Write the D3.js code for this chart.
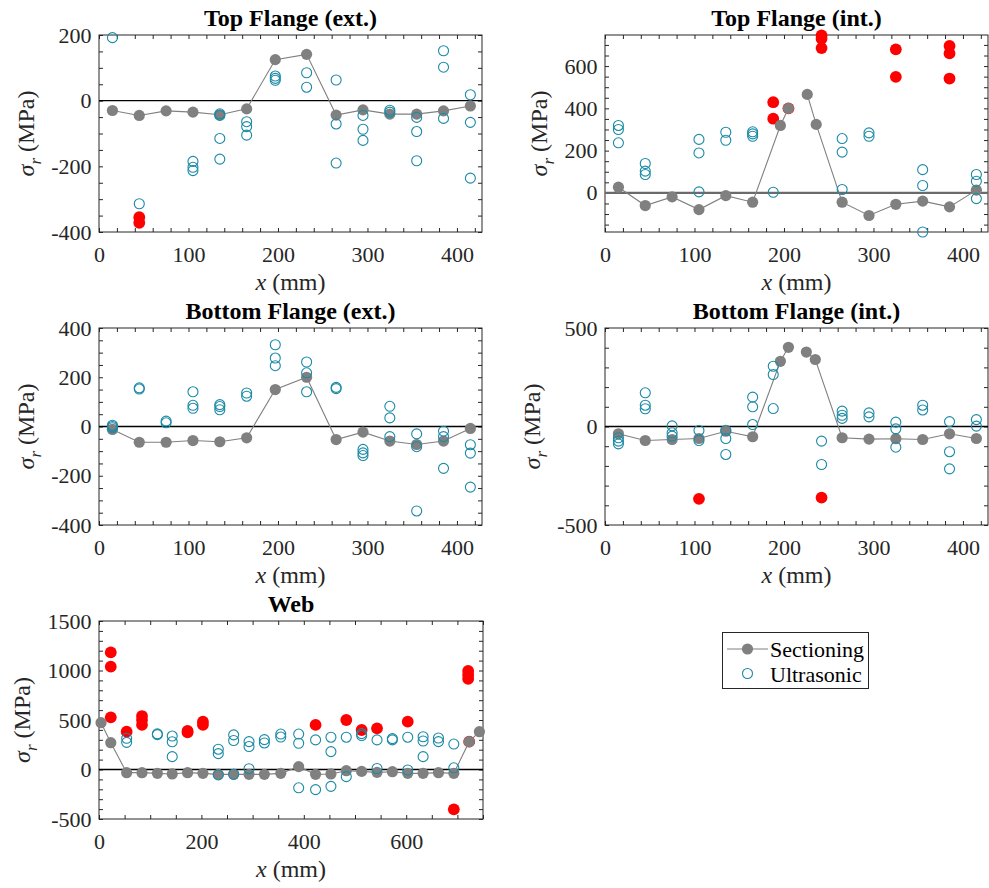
<!DOCTYPE html>
<html>
<head>
<meta charset="utf-8">
<script src="https://cdn.jsdelivr.net/npm/d3@7"></script>
<style>
  body { margin: 0; background: #fff; }
  svg { display: block; }
  svg text { font-family: "Liberation Serif", Tinos, "Times New Roman", Times, "DejaVu Serif", serif !important; }
</style>
</head>
<body>
<svg id="fig" width="989" height="888"></svg>
<script>
// ---------- Top Flange (ext.) ----------
const tfeSecX = [15, 45, 75, 105, 135, 165, 197, 232, 265, 295, 325, 355, 385, 415];
const tfeSecY = [-30, -45, -31, -35, -43, -25, 125, 141, -44, -28, -41, -41, -31, -16];
const tfeUltX = [15, 45, 105, 105, 105, 135, 135, 135, 135, 165, 165, 165, 197, 197, 197, 232, 232,
                 265, 265, 265, 295, 295, 295, 325, 325, 355, 355, 355, 385, 385, 385, 415, 415, 415];
const tfeUltY = [192, -314, -185, -203, -213, -40, -45, -115, -178, -64, -79, -105, 75, 68, 62, 85, 41,
                 63, -71, -190, -45, -87, -121, -29, -35, -51, -94, -183, 152, 102, -54, 18, -66, -236];
const tfeOutX = [45, 45];
const tfeOutY = [-355, -372];
const tfeYTicks = [-400, -200, 0, 200];

// ---------- Top Flange (int.) ----------  (null = break at the web junction)
const tfiSecX = [15, 45, 75, 105, 135, 165, 196, 205, null, 226, 236, 265, 295, 325, 355, 385, 415];
const tfiSecY = [27, -60, -19, -79, -13, -44, 319, 400, null, 466, 324, -44, -107, -54, -39, -66, 13];
const tfiUltX = [15, 15, 15, 45, 45, 45, 105, 105, 105, 135, 135, 165, 165, 165, 188,
                 265, 265, 265, 295, 295, 355, 355, 355, 415, 415, 415];
const tfiUltY = [319, 300, 237, 139, 103, 87, 253, 189, 5, 287, 249, 289, 279, 268, 3,
                 257, 193, 16, 284, 268, 110, 35, -185, 87, 55, -27];
const tfiOutX = [188, 188, 205, 242, 242, 242, 325, 325, 385, 385, 385];
const tfiOutY = [429, 351, 400, 745, 729, 685, 679, 549, 695, 660, 541];
const tfiYTicks = [0, 200, 400, 600];

// ---------- Bottom Flange (ext.) ----------
const bfeSecX = [15, 45, 75, 105, 135, 165, 197, 232, 265, 295, 325, 355, 385, 415];
const bfeSecY = [-12, -64, -64, -57, -62, -46, 150, 200, -53, -23, -59, -73, -59, -8];
const bfeUltX = [15, 15, 15, 45, 45, 75, 75, 105, 105, 105, 135, 135, 135, 165, 165, 197, 197, 197,
                 232, 232, 232, 265, 265, 295, 295, 295, 325, 325, 325, 355, 355, 355, 385, 385, 385, 415, 415, 415];
const bfeUltY = [5, 0, -5, 157, 152, 22, 15, 141, 86, 74, 89, 81, 68, 136, 123, 332, 278, 247,
                 262, 218, 141, 159, 154, -93, -107, -118, 82, 35, -41, -30, -82, -343, -19, -41, -170, -74, -108, -246];
const bfeOutX = [];
const bfeOutY = [];
const bfeYTicks = [-400, -200, 0, 200, 400];

// ---------- Bottom Flange (int.) ----------
const bfiSecX = [15, 45, 75, 105, 135, 165, 196, 205, null, 225, 235, 265, 295, 325, 355, 385, 415];
const bfiSecY = [-37, -71, -66, -61, -24, -52, 331, 402, null, 378, 340, -57, -64, -62, -66, -37, -61];
const bfiUltX = [15, 15, 15, 45, 45, 45, 75, 75, 75, 105, 105, 135, 135, 135, 165, 165, 165, 188, 188, 188,
                 242, 242, 265, 265, 265, 295, 295, 325, 325, 325, 355, 355, 385, 385, 385, 415, 415];
const bfiUltY = [-57, -74, -88, 171, 108, 90, 3, -32, -49, -20, -71, -19, -61, -142, 149, 100, 10, 306, 264, 91,
                 -74, -193, 78, 57, 41, 69, 49, 22, -12, -105, 108, 84, 25, -128, -215, 35, 2];
const bfiOutX = [105, 242];
const bfiOutY = [-367, -361];
const bfiYTicks = [-500, 0, 500];

// ---------- Web ----------
const webSecX = [4, 23, 54, 84, 114, 143, 173, 203, 233, 263, 293, 323, 355, 390, 423, 453, 483, 513, 543, 573,
                 603, 633, 663, 693, 723, 743];
const webSecY = [473, 271, -32, -32, -39, -45, -32, -39, -49, -49, -49, -49, -39, 29, -49, -45, -12, -19, -29, -22,
                 -39, -39, -32, -39, 281, 382];
const webUltX = [54, 54, 114, 114, 143, 143, 143, 233, 233, 233, 263, 263, 263, 293, 293, 293, 323, 323, 355, 355,
                 390, 390, 390, 423, 423, 453, 453, 453, 483, 483, 513, 513, 543, 543, 573, 573, 603, 603,
                 633, 633, 633, 663, 663, 693, 693];
const webUltY = [315, 274, 360, 352, 338, 280, 130, 205, 160, -55, 350, 293, -48, 282, 232, 8, 302, 268, 358, 328,
                 358, 265, -185, 299, -203, 326, 181, -170, 326, -72, 362, 343, 299, 10, 312, 299, 326, -5,
                 331, 288, 130, 318, 282, 257, 17];
const webOutX = [23, 23, 23, 54, 84, 84, 84, 173, 173, 203, 203, 423, 483, 513, 543, 603, 693, 721, 721, 721, 723];
const webOutY = [1183, 1039, 527, 382, 540, 500, 450, 390, 375, 483, 450, 450, 500, 399, 416, 483, -402, 995, 955, 915, 281];
const webYTicks = [-500, 0, 500, 1000, 1500];

const flangeXTicks = [0, 100, 200, 300, 400];
const webXTicks = [0, 200, 400, 600];

const legendLabels = ["Sectioning", "Ultrasonic"];

// ---------- styling ----------
const FONT = '"Liberation Serif", Tinos, "Times New Roman", Times, "DejaVu Serif", serif';
const AX = "#262626";
const SEC = "#808080";
const ULT = "#1a8aa6";
const OUT = "#ff0000";
const TICK = 4;

const svg = d3.select("#fig").attr("font-family", FONT);

const zip = (xs, ys) => xs.map((x, i) => ({ x, y: ys[i] }));

const panels = [
  { title: "Top Flange (ext.)", box: [99, 482, 35, 232], xDom: [0, 428], yDom: [-400, 200],
    xT: flangeXTicks, xMin: 20, yT: tfeYTicks, yMin: 50,
    sec: zip(tfeSecX, tfeSecY), ult: zip(tfeUltX, tfeUltY), out: zip(tfeOutX, tfeOutY), zero: ["#000", 1.3] },
  { title: "Top Flange (int.)", box: [605, 988, 35, 232], xDom: [0, 428], yDom: [-185, 747],
    xT: flangeXTicks, xMin: 20, yT: tfiYTicks, yMin: 50,
    sec: zip(tfiSecX, tfiSecY), ult: zip(tfiUltX, tfiUltY), out: zip(tfiOutX, tfiOutY), zero: ["#6a6a6a", 2.4] },
  { title: "Bottom Flange (ext.)", box: [99, 482, 328, 525], xDom: [0, 428], yDom: [-400, 400],
    xT: flangeXTicks, xMin: 20, yT: bfeYTicks, yMin: 50,
    sec: zip(bfeSecX, bfeSecY), ult: zip(bfeUltX, bfeUltY), out: zip(bfeOutX, bfeOutY), zero: ["#000", 1.3] },
  { title: "Bottom Flange (int.)", box: [605, 988, 328, 525], xDom: [0, 428], yDom: [-500, 500],
    xT: flangeXTicks, xMin: 20, yT: bfiYTicks, yMin: 100,
    sec: zip(bfiSecX, bfiSecY), ult: zip(bfiUltX, bfiUltY), out: zip(bfiOutX, bfiOutY), zero: ["#000", 1.3] },
  { title: "Web", box: [99, 483, 621, 819], xDom: [0, 750], yDom: [-500, 1500],
    xT: webXTicks, xMin: 50, yT: webYTicks, yMin: 100,
    sec: zip(webSecX, webSecY), ult: zip(webUltX, webUltY), out: zip(webOutX, webOutY), zero: ["#000", 1.3] }
];

function styleAxis(g) {
  g.attr("font-family", FONT).attr("font-size", 22);
  g.select(".domain").remove();
  g.selectAll(".tick line").attr("stroke", AX).attr("stroke-width", 1);
  g.selectAll(".tick text").attr("fill", AX);
}

panels.forEach(p => {
  const [x0, x1, y0, y1] = p.box;
  const x = d3.scaleLinear().domain(p.xDom).range([x0, x1]);
  const y = d3.scaleLinear().domain(p.yDom).range([y1, y0]);
  const g = svg.append("g");

  const minorX = d3.range(p.xDom[0], p.xDom[1] + 1e-9, p.xMin).filter(v => !p.xT.includes(v));
  const minorY = d3.range(Math.ceil(p.yDom[0] / p.yMin) * p.yMin, p.yDom[1] + 1e-9, p.yMin).filter(v => !p.yT.includes(v));
  const fmt = d => String(d);

  // ticks on all four sides, pointing inward
  g.append("g").attr("transform", `translate(0,${y1})`)
    .call(d3.axisBottom(x).tickValues(p.xT).tickSize(-TICK).tickPadding(14).tickFormat(fmt)).call(styleAxis);
  g.append("g").attr("transform", `translate(0,${y1})`)
    .call(d3.axisBottom(x).tickValues(minorX).tickSize(-TICK).tickFormat("")).call(styleAxis);
  g.append("g").attr("transform", `translate(0,${y0})`)
    .call(d3.axisTop(x).tickValues(p.xT.concat(minorX)).tickSize(-TICK).tickFormat("")).call(styleAxis);
  const yAxisG = g.append("g").attr("transform", `translate(${x0},0)`)
    .call(d3.axisLeft(y).tickValues(p.yT).tickSize(-TICK).tickPadding(7.5).tickFormat(fmt)).call(styleAxis);
  g.append("g").attr("transform", `translate(${x0},0)`)
    .call(d3.axisLeft(y).tickValues(minorY).tickSize(-TICK).tickFormat("")).call(styleAxis);
  g.append("g").attr("transform", `translate(${x1},0)`)
    .call(d3.axisRight(y).tickValues(p.yT.concat(minorY)).tickSize(-TICK).tickFormat("")).call(styleAxis);

  g.append("rect").attr("x", x0).attr("y", y0).attr("width", x1 - x0).attr("height", y1 - y0)
    .attr("fill", "none").attr("stroke", AX).attr("stroke-width", 1);

  // zero reference line
  g.append("line").attr("x1", x0).attr("x2", x1).attr("y1", y(0)).attr("y2", y(0))
    .attr("stroke", p.zero[0]).attr("stroke-width", p.zero[1]);

  // excluded ultrasonic readings
  g.selectAll(".out").data(p.out).join("circle")
    .attr("cx", d => x(d.x)).attr("cy", d => y(d.y)).attr("r", 5.9).attr("fill", OUT);

  // sectioning profile
  const line = d3.line().defined(d => d.y != null).x(d => x(d.x)).y(d => y(d.y));
  g.append("path").datum(p.sec).attr("d", line).attr("fill", "none")
    .attr("stroke", SEC).attr("stroke-width", 1.1);
  g.selectAll(".sec").data(p.sec.filter(d => d.y != null)).join("circle")
    .attr("cx", d => x(d.x)).attr("cy", d => y(d.y)).attr("r", 5.6).attr("fill", SEC);

  // ultrasonic readings
  g.selectAll(".ult").data(p.ult).join("circle")
    .attr("cx", d => x(d.x)).attr("cy", d => y(d.y)).attr("r", 5)
    .attr("fill", "none").attr("stroke", ULT).attr("stroke-width", 1.1);

  // titles and axis labels
  const cx = (x0 + x1) / 2;
  g.append("text").attr("x", cx).attr("y", y0 - 9).attr("text-anchor", "middle")
    .attr("font-size", 24).attr("font-weight", "bold").attr("fill", "#000").text(p.title);

  const xl = g.append("text").attr("x", cx).attr("y", y1 + 58).attr("text-anchor", "middle")
    .attr("font-size", 24).attr("fill", AX);
  xl.append("tspan").attr("font-style", "italic").text("x");
  xl.append("tspan").text(" (mm)");

  const maxW = d3.max(yAxisG.selectAll(".tick text").nodes(), n => n.getComputedTextLength()) || 0;
  const lx = x0 - (7.5 + maxW + 23.5) + 6;
  const yl = g.append("text").attr("transform", `translate(${lx},${(y0 + y1) / 2}) rotate(-90)`)
    .attr("text-anchor", "middle").attr("font-size", 24).attr("fill", AX);
  yl.append("tspan").attr("font-style", "italic").text("σ");
  yl.append("tspan").attr("font-style", "italic").attr("font-size", 17).attr("dy", 7).text("r");
  yl.append("tspan").attr("dy", -7).text(" (MPa)");
});

// ---------- legend ----------
const lg = svg.append("g");
lg.append("rect").attr("x", 722.5).attr("y", 632.5).attr("width", 146).attr("height", 56)
  .attr("fill", "#fff").attr("stroke", AX).attr("stroke-width", 1);
lg.append("line").attr("x1", 727).attr("x2", 768).attr("y1", 649).attr("y2", 649)
  .attr("stroke", SEC).attr("stroke-width", 1.1);
lg.append("circle").attr("cx", 747.5).attr("cy", 649).attr("r", 5.6).attr("fill", SEC);
lg.append("circle").attr("cx", 747.5).attr("cy", 673.5).attr("r", 5).attr("fill", "none")
  .attr("stroke", ULT).attr("stroke-width", 1.1);
lg.selectAll(".lt").data(legendLabels).join("text")
  .attr("x", 770).attr("y", (d, i) => 656.5 + i * 25)
  .attr("font-size", 22).attr("fill", "#000").text(d => d);
</script>
</body>
</html>
